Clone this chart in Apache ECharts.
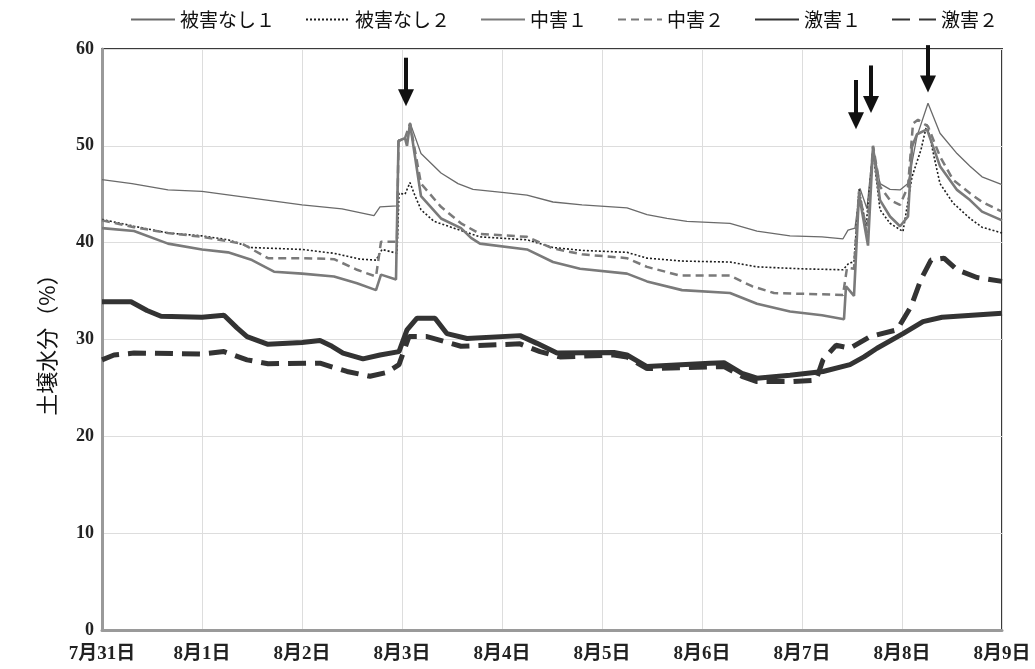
<!DOCTYPE html>
<html><head><meta charset="utf-8">
<script src="https://cdn.jsdelivr.net/npm/echarts@6/dist/echarts.min.js"></script>
<style>html,body{margin:0;padding:0;background:#fff}#c{width:1035px;height:669px}</style>
</head><body><div id="c"></div><script>
// x values are days after 7/31 00:00
const tickLabels = ['7月31日','8月1日','8月2日','8月3日','8月4日','8月5日','8月6日','8月7日','8月8日','8月9日'];
const seriesNames = ['被害なし１','被害なし２','中害１','中害２','激害１','激害２'];

const none1 = [[0,46.5],[0.3,46.1],[0.66,45.45],[1.0,45.3],[1.5,44.6],[2.0,43.9],[2.4,43.5],[2.72,42.8],[2.78,43.7],[2.95,43.8],[2.965,50.6],[3.03,50.8],[3.05,50.3],[3.08,52.4],[3.19,49.2],[3.39,47.2],[3.56,46.1],[3.71,45.5],[4.0,45.2],[4.25,44.9],[4.51,44.2],[4.8,43.9],[5.1,43.7],[5.25,43.6],[5.45,42.9],[5.65,42.5],[5.85,42.2],[6.28,42.0],[6.55,41.2],[6.88,40.7],[7.2,40.6],[7.41,40.4],[7.46,41.3],[7.53,41.5],[7.58,45.6],[7.65,43.5],[7.71,49.9],[7.78,46.1],[7.88,45.5],[7.98,45.45],[8.06,46.1],[8.15,51.0],[8.26,54.4],[8.38,51.3],[8.55,49.2],[8.68,47.9],[8.8,46.8],[9.0,46.0]];

const none2 = [[0,42.4],[0.32,41.7],[0.66,41.0],[1.0,40.7],[1.26,40.3],[1.49,39.5],[2.0,39.3],[2.32,38.9],[2.58,38.3],[2.74,38.2],[2.8,39.3],[2.95,38.9],[2.97,45.1],[3.03,45.0],[3.08,46.2],[3.12,45.1],[3.19,43.4],[3.32,42.2],[3.52,41.5],[3.78,40.6],[4.25,40.3],[4.51,39.5],[4.8,39.2],[5.25,39.0],[5.45,38.4],[5.8,38.1],[6.28,38.0],[6.55,37.5],[7.0,37.3],[7.41,37.2],[7.47,37.9],[7.52,38.0],[7.57,45.5],[7.64,41.7],[7.71,49.4],[7.78,43.4],[7.88,42.0],[8.01,41.15],[8.1,46.8],[8.19,49.6],[8.25,52.3],[8.32,48.9],[8.38,46.1],[8.51,44.1],[8.68,42.5],[8.8,41.6],[9.0,41.0]];

const mid1 = [[0,41.5],[0.32,41.2],[0.66,39.9],[1.0,39.3],[1.26,39.0],[1.5,38.2],[1.72,37.0],[2.0,36.8],[2.32,36.5],[2.55,35.8],[2.74,35.1],[2.79,36.7],[2.94,36.2],[2.965,50.5],[3.03,50.8],[3.05,50.0],[3.08,52.3],[3.19,44.8],[3.39,42.5],[3.59,41.5],[3.69,40.5],[3.78,39.9],[4.25,39.3],[4.51,38.0],[4.78,37.3],[5.25,36.8],[5.45,36.0],[5.8,35.1],[6.28,34.8],[6.55,33.7],[6.88,32.9],[7.2,32.5],[7.42,32.1],[7.44,35.5],[7.52,34.5],[7.57,45.0],[7.66,39.7],[7.71,49.9],[7.78,44.4],[7.88,42.7],[7.98,41.7],[8.06,42.7],[8.1,49.9],[8.15,51.2],[8.25,51.7],[8.38,47.9],[8.55,45.45],[8.68,44.4],[8.8,43.2],[9.0,42.3]];

const mid2 = [[0,42.3],[0.32,41.6],[0.66,41.0],[1.0,40.6],[1.4,39.9],[1.66,38.4],[2.0,38.4],[2.32,38.3],[2.55,37.2],[2.74,36.5],[2.79,40.1],[2.95,40.1],[2.965,50.5],[3.03,50.8],[3.08,52.3],[3.19,46.1],[3.39,43.7],[3.59,42.0],[3.78,40.9],[4.25,40.6],[4.51,39.4],[4.8,38.8],[5.25,38.4],[5.45,37.5],[5.78,36.6],[6.28,36.6],[6.5,35.5],[6.72,34.8],[7.41,34.6],[7.45,37.4],[7.52,37.3],[7.57,45.3],[7.65,41.0],[7.71,50.0],[7.78,45.8],[7.88,44.4],[7.98,43.9],[8.06,45.8],[8.11,52.3],[8.16,52.7],[8.26,52.0],[8.38,48.9],[8.51,46.5],[8.68,45.1],[8.8,44.2],[9.0,43.2]];

const severe1 = [[0,33.9],[0.29,33.9],[0.45,33.0],[0.59,32.4],[1.0,32.3],[1.22,32.5],[1.35,31.2],[1.45,30.3],[1.66,29.5],[2.0,29.7],[2.18,29.9],[2.3,29.3],[2.41,28.6],[2.61,28.0],[2.78,28.4],[2.97,28.75],[3.05,31.0],[3.15,32.2],[3.33,32.2],[3.45,30.6],[3.65,30.1],[4.18,30.4],[4.35,29.6],[4.55,28.6],[5.12,28.65],[5.25,28.4],[5.45,27.2],[6.08,27.55],[6.22,27.6],[6.4,26.5],[6.55,26.0],[6.88,26.3],[7.21,26.7],[7.48,27.4],[7.62,28.2],[7.75,29.1],[8.01,30.6],[8.21,31.85],[8.4,32.3],[8.55,32.4],[9.0,32.7]];

const severe2 = [[0,27.9],[0.12,28.4],[0.32,28.6],[1.0,28.5],[1.22,28.75],[1.45,27.9],[1.66,27.5],[2.18,27.55],[2.45,26.7],[2.68,26.2],[2.85,26.6],[2.97,27.4],[3.07,30.3],[3.25,30.3],[3.59,29.3],[4.18,29.55],[4.38,28.75],[4.58,28.2],[5.12,28.4],[5.25,28.2],[5.45,27.0],[6.22,27.2],[6.4,26.2],[6.55,25.65],[6.88,25.65],[7.14,25.8],[7.21,27.9],[7.34,29.4],[7.48,29.1],[7.68,30.3],[7.95,31.0],[8.09,33.4],[8.19,36.2],[8.29,38.2],[8.42,38.4],[8.55,37.2],[8.75,36.4],[9.0,36.0]];

// arrows: [day, top value, tip value]
const arrows = [[3.04,59.1,54.1],[7.54,56.8,51.7],[7.69,58.3,53.4],[8.26,60.4,55.5]];

const chart = echarts.init(document.getElementById('c'), null, {renderer:'canvas'});
const lbl = {fontFamily:"'Liberation Serif','Noto Sans CJK JP',serif", fontWeight:'bold', color:'#222'};
function lineSeries(name, data, color, width, type) {
  return {name:name, type:'line', data:data, symbol:'none', showSymbol:false, smooth:false,
    lineStyle:{color:color, width:width, type:type}, itemStyle:{color:color}};
}
chart.setOption({
  animation:false,
  backgroundColor:'#fff',
  grid:{left:102, right:33, top:49, bottom:39, show:true, borderColor:'#3a3a3a', borderWidth:2, backgroundColor:'transparent'},
  legend:{data:seriesNames, left:125, top:5, itemWidth:44, itemHeight:14, itemGap:30,
    itemStyle:{opacity:0},
    textStyle:{fontFamily:"'Noto Sans CJK JP'", fontSize:19, color:'#111', padding:[0,0,0,0]}},
  xAxis:{type:'value', min:0, max:9, interval:1,
    axisLine:{show:true, lineStyle:{color:'#9a9a9a', width:3}},
    axisTick:{show:false},
    splitLine:{show:true, lineStyle:{color:'#dddddd', width:1}},
    axisLabel:Object.assign({fontSize:19, margin:15, formatter:function(v){return tickLabels[Math.round(v)];}}, lbl)},
  yAxis:{type:'value', min:0, max:60, interval:10,
    name:'土壌水分（%）', nameLocation:'middle', nameRotate:90, nameGap:44,
    nameTextStyle:{fontFamily:"'Noto Sans CJK JP'", fontSize:22, color:'#111'},
    axisLine:{show:true, lineStyle:{color:'#9a9a9a', width:3}},
    axisTick:{show:false},
    splitLine:{show:true, lineStyle:{color:'#dddddd', width:1}},
    axisLabel:Object.assign({fontSize:18, margin:8}, lbl)},
  series:[
    lineSeries(seriesNames[0], none1, '#6a6a6a', 1.3, 'solid'),
    lineSeries(seriesNames[1], none2, '#1e1e1e', 1.6, [2,2]),
    lineSeries(seriesNames[2], mid1, '#7a7a7a', 2.6, 'solid'),
    lineSeries(seriesNames[3], mid2, '#7a7a7a', 2.5, [8,5]),
    lineSeries(seriesNames[4], severe1, '#333333', 5, 'solid'),
    lineSeries(seriesNames[5], severe2, '#333333', 5, [18,9]),
    {type:'custom', name:'arrows', data:arrows, encode:{x:0, y:[1,2]}, clip:false, z:10,
      renderItem:function(params, api){
        const top = api.coord([api.value(0), api.value(1)]);
        const tip = api.coord([api.value(0), api.value(2)]);
        const hh = 17, hw = 8;
        return {type:'group', children:[
          {type:'rect', shape:{x:top[0]-2, y:top[1], width:4, height:tip[1]-top[1]-hh+1}, style:{fill:'#111'}},
          {type:'polygon', shape:{points:[[tip[0]-hw, tip[1]-hh],[tip[0]+hw, tip[1]-hh],[tip[0], tip[1]]]}, style:{fill:'#111'}}
        ]};
      }}
  ]
});
</script></body></html>
